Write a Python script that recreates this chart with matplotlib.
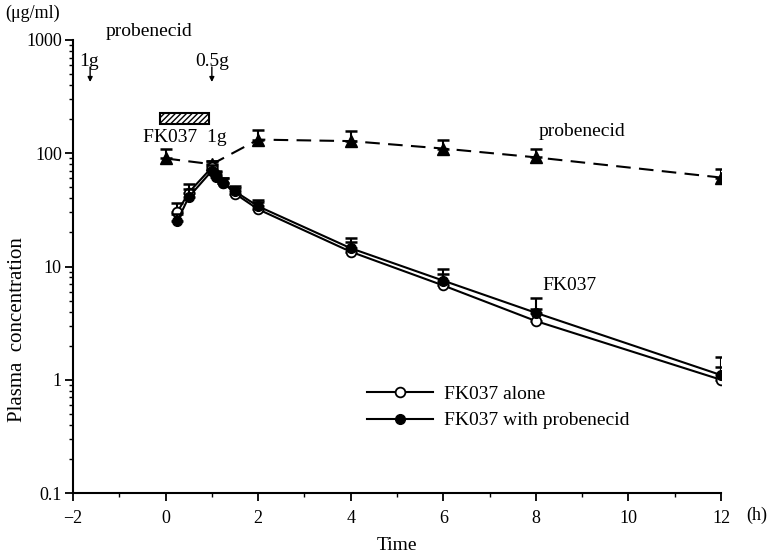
import matplotlib
matplotlib.use("Agg")
import matplotlib.pyplot as plt
import numpy as np
from matplotlib.ticker import FixedLocator, NullFormatter, LogLocator
from matplotlib.patches import Rectangle

plt.rcParams['font.family'] = ['Liberation Serif', 'DejaVu Serif']

# Probenecid (triangles)
prob_t = [0, 1, 2, 4, 6, 8, 12]
prob_c = [90, 80, 132, 128, 110, 92, 61]
prob_err = [20, 6, 30, 28, 20, 18, 12]

# FK037 alone (open circles)
alone_t = [0.25, 0.5, 1.0, 1.08, 1.25, 1.5, 2, 4, 6, 8, 12]
alone_c = [30, 45, 75, 64, 55, 44, 32, 13.5, 6.8, 3.3, 1.0]
alone_err = [6, 8, 10, 6, 6, 5, 5, 3, 1.8, 0.9, 0.3]

# FK037 with probenecid (filled circles)
with_t = [0.25, 0.5, 1.0, 1.08, 1.25, 1.5, 2, 4, 6, 8, 12]
with_c = [25, 41, 70, 62, 55, 46, 34, 14.5, 7.5, 3.9, 1.1]
with_err = [4, 7, 8, 6, 6, 5, 5, 3.5, 2.0, 1.4, 0.5]

fig = plt.figure(figsize=(7.68, 5.57), dpi=100)
ax = fig.add_axes([73/768, 1-493/557, (721-73)/768, (493-40)/557])

ax.set_yscale('log')
ax.set_xlim(-2, 12)
ax.set_ylim(0.1, 1000)


def py(p):
    # pixel row -> data value (helper for annotation placement)
    return 10**((493-p)/113.25-1)


# probenecid dashed
ax.errorbar(prob_t, prob_c, yerr=[np.zeros(len(prob_err)), prob_err], fmt='none',
            ecolor='black', elinewidth=1.5, capsize=4, capthick=1.8)
ax.plot(prob_t, prob_c, color='black', linestyle=(0, (7, 4)), linewidth=1.5,
        marker='^', markersize=9, markerfacecolor='black')

# FK037 alone
ax.errorbar(alone_t, alone_c, yerr=[np.zeros(len(alone_err)), alone_err], fmt='none',
            ecolor='black', elinewidth=1.5, capsize=4, capthick=1.8)
l1, = ax.plot(alone_t, alone_c, color='black', linewidth=1.5, marker='o', markersize=7,
              markerfacecolor='white', markeredgecolor='black', markeredgewidth=1.3)
# FK037 with probenecid
ax.errorbar(with_t, with_c, yerr=[np.zeros(len(with_err)), with_err], fmt='none',
            ecolor='black', elinewidth=1.5, capsize=4, capthick=1.8)
l2, = ax.plot(with_t, with_c, color='black', linewidth=1.5, marker='o', markersize=7,
              markerfacecolor='black', markeredgecolor='black')

# axes styling
for s in ['top', 'right']:
    ax.spines[s].set_visible(False)
for s in ['left', 'bottom']:
    ax.spines[s].set_linewidth(1.5)

ax.set_xticks([-2, 0, 2, 4, 6, 8, 10, 12])
ax.set_xticklabels(['\u22122', '0', '2', '4', '6', '8', '10', '12'])
ax.xaxis.set_minor_locator(FixedLocator([-1, 1, 3, 5, 7, 9, 11]))
ax.set_yticks([0.1, 1, 10, 100, 1000])
ax.set_yticklabels(['0.1', '1', '10', '100', '1000'])
ax.yaxis.set_minor_locator(LogLocator(base=10, subs=np.arange(2, 10)))
ax.yaxis.set_minor_formatter(NullFormatter())
ax.tick_params(axis='both', which='major', direction='out', length=6, width=1.3,
               labelsize=13)
ax.tick_params(axis='x', which='major', pad=6)
ax.tick_params(axis='y', which='major', pad=2)
ax.tick_params(axis='both', which='minor', direction='out', length=3, width=1.0)

fig.text(397/768, 1-545/557, 'Time', fontsize=14, ha='center', va='center')
fig.text(18/768, 1-330/557, 'Plasma  concentration', fontsize=15, ha='center',
         va='center', rotation=90)

fig.text(757/768, 1-515/557, '(h)', fontsize=13, ha='center', va='center')
fig.text(5/768, 1-13/557, '(\u03bcg/ml)', fontsize=13, ha='left', va='center')

# annotations
ax.text(-1.29, py(32), 'probenecid', fontsize=14, ha='left', va='center')
ax.text(-1.65, py(61), '1g', fontsize=14, ha='center', va='center')
ax.text(1.0, py(61), '0.5g', fontsize=14, ha='center', va='center')
for xa in [-1.63, 1.0]:
    ax.annotate('', xy=(xa, py(82)), xytext=(xa, py(67)),
                arrowprops=dict(arrowstyle='-|>', color='black', lw=1.0,
                                mutation_scale=7, shrinkA=0, shrinkB=0))

ax.add_patch(Rectangle((-0.12, py(124)), 1.06, py(113) - py(124), facecolor='white',
                       edgecolor='black', hatch='//////', linewidth=1.5))
ax.text(0.42, py(137), 'FK037  1g', fontsize=14, ha='center', va='center')
ax.text(8.05, py(132), 'probenecid', fontsize=14, ha='left', va='center')
ax.text(8.15, py(285), 'FK037', fontsize=14, ha='left', va='center')

leg = ax.legend([l1, l2], ['FK037 alone', 'FK037 with probenecid'], frameon=False,
                loc='upper left', bbox_to_anchor=(349/768, 1-368/557),
                bbox_transform=fig.transFigure, handlelength=3.4, fontsize=14,
                labelspacing=0.45, handletextpad=0.6)

fig.savefig('out.png', dpi=100)
